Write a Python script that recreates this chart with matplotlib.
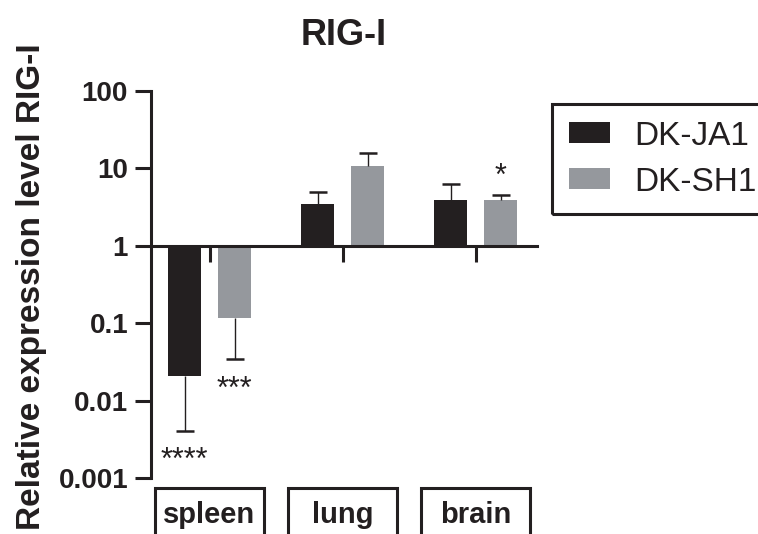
import matplotlib
import matplotlib.pyplot as plt
import matplotlib.transforms as mtransforms
from matplotlib.patches import Rectangle

matplotlib.use("Agg")

plt.rcParams["font.family"] = ["Liberation Sans", "DejaVu Sans"]

tissues = ["spleen", "lung", "brain"]
series_names = ["DK-JA1", "DK-SH1"]
ja1_values = [0.0205, 3.5, 3.85]
sh1_values = [0.116, 10.6, 3.95]
# end point of each error bar (drawn away from the baseline of 1)
ja1_err_tip = [0.0041, 4.9, 6.2]
sh1_err_tip = [0.034, 15.6, 4.6]
ja1_stars = ["****", "", ""]
sh1_stars = ["***", "", "*"]
ytick_vals = [0.001, 0.01, 0.1, 1, 10, 100]
ytick_labels = ["0.001", "0.01", "0.1", "1", "10", "100"]

DARK = "#231f20"
GREY = "#95989d"

fig = plt.figure(figsize=(7.58, 5.34), dpi=100)
ax = fig.add_axes([151 / 758, 56 / 534, 386 / 758, 387 / 534])

ax.set_yscale("log")
ax.set_ylim(0.001, 100)
ax.set_xlim(-0.44, 2.462)

width = 0.248
offset = 0.188
xs = list(range(len(tissues)))

for vals, tips, stars, color, sign, name in [
    (ja1_values, ja1_err_tip, ja1_stars, DARK, -1, series_names[0]),
    (sh1_values, sh1_err_tip, sh1_stars, GREY, 1, series_names[1]),
]:
    pos = [x + sign * offset for x in xs]
    ax.bar(pos, [v - 1 for v in vals], bottom=1, width=width, color=color,
           label=name, zorder=2)
    # one-sided error bars with a cap only at the far end
    ax.vlines(pos, vals, tips, color=DARK, linewidth=1.0, zorder=3)
    ax.plot(pos, tips, linestyle="none", marker="_", markersize=12.5,
            markeredgewidth=1.8, color=DARK, zorder=3)
    for p, v, t, s in zip(pos, vals, tips, stars):
        if not s:
            continue
        if t < v:
            ax.annotate(s, (p, t), xytext=(0, -11), textcoords="offset points",
                        ha="center", va="top", fontsize=22, color=DARK)
        else:
            ax.annotate(s, (p, t), xytext=(0, 2), textcoords="offset points",
                        ha="center", va="bottom", fontsize=22, color=DARK)

for side in ["top", "right"]:
    ax.spines[side].set_visible(False)
ax.spines["bottom"].set_position(("data", 1))
for side in ["left", "bottom"]:
    ax.spines[side].set_linewidth(2.2)
    ax.spines[side].set_color(DARK)
    ax.spines[side].set_zorder(4)

ax.set_xticks(xs)
ax.set_xticklabels([])
ax.tick_params(axis="x", direction="out", length=11.5, width=2.2, color=DARK)
ax.set_yticks(ytick_vals)
ax.set_yticklabels(ytick_labels, fontsize=20, fontweight="bold", color=DARK)
ax.yaxis.set_minor_locator(matplotlib.ticker.NullLocator())
ax.tick_params(axis="y", direction="out", length=11.5, width=2.2, color=DARK, pad=5)

ax.set_title("RIG-I", fontsize=26, fontweight="bold", color=DARK, pad=33)
fig.text(32 / 758, 1 - 287 / 534, "Relative expression level RIG-I", rotation=90,
         ha="center", va="center", fontsize=24, fontweight="bold", color=DARK)

# boxed category labels under the plot
blend = mtransforms.blended_transform_factory(ax.transData, fig.transFigure)
box_w = 0.82
for x, name in zip(xs, tissues):
    rect = Rectangle((x - box_w / 2, -0.1), box_w, 0.1 + 46 / 534, transform=blend,
                     fill=False, edgecolor=DARK, linewidth=2.2, clip_on=False)
    fig.patches.append(rect)
    fig.text(x, 11 / 534, name, transform=blend, fontsize=21, fontweight="bold",
             color=DARK, ha="center", va="baseline")

leg = fig.legend(loc="upper left", bbox_to_anchor=(552 / 758, 1 - 104 / 534),
                 fontsize=24, frameon=False, borderpad=0.5,
                 handlelength=1.25, handleheight=0.6, handletextpad=0.72,
                 labelspacing=0.45, borderaxespad=0)
for t in leg.get_texts():
    t.set_color(DARK)
# legend frame runs off the right edge, as in the reference
fig.patches.append(Rectangle((552 / 758, 1 - 214 / 534), 240 / 758, 110 / 534,
                             transform=fig.transFigure, fill=False,
                             edgecolor=DARK, linewidth=2.2))

fig.savefig("out.png", dpi=100)
